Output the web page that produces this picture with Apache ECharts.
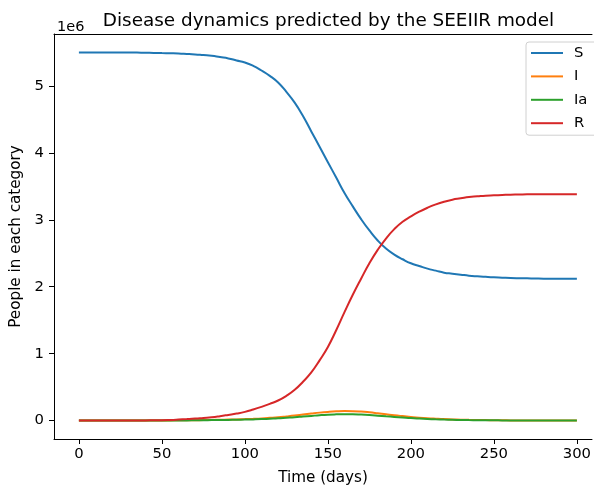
<!DOCTYPE html>
<html>
<head>
<meta charset="utf-8">
<script src="https://cdn.jsdelivr.net/npm/echarts@6/dist/echarts.min.js"></script>
<style>html,body{margin:0;padding:0;background:#fff;}#c{width:594px;height:491px;}</style>
</head>
<body>
<div id="c"></div>
<script>
// time (days), every 5 days
const days = [0,5,10,15,20,25,30,35,40,45,50,55,60,65,70,75,80,85,90,95,100,105,110,115,120,125,130,135,140,145,150,155,160,165,170,175,180,185,190,195,200,205,210,215,220,225,230,235,240,245,250,255,260,265,270,275,280,285,290,295,300];
// values in units of 1e6 people
const S  = [5.50,5.50,5.50,5.50,5.50,5.50,5.50,5.498,5.495,5.493,5.49,5.488,5.485,5.478,5.47,5.46,5.45,5.43,5.41,5.38,5.35,5.30,5.23,5.15,5.05,4.91,4.75,4.55,4.32,4.09,3.86,3.63,3.40,3.20,3.01,2.84,2.69,2.57,2.48,2.41,2.35,2.31,2.27,2.24,2.21,2.195,2.18,2.165,2.155,2.147,2.14,2.135,2.13,2.127,2.125,2.122,2.12,2.12,2.12,2.12,2.12];
const I  = [0,0,0,0.001,0.001,0.001,0.001,0.002,0.002,0.002,0.003,0.003,0.004,0.005,0.006,0.008,0.01,0.012,0.015,0.018,0.022,0.027,0.033,0.041,0.05,0.062,0.075,0.09,0.105,0.119,0.13,0.138,0.142,0.141,0.135,0.124,0.11,0.095,0.08,0.067,0.055,0.044,0.035,0.028,0.022,0.018,0.014,0.011,0.009,0.007,0.005,0.004,0.003,0.0025,0.002,0.0015,0.001,0.001,0.001,0.0005,0];
const Ia = [0,0,0,0.001,0.001,0.001,0.001,0.001,0.001,0.002,0.002,0.002,0.003,0.003,0.004,0.005,0.007,0.008,0.01,0.012,0.015,0.018,0.022,0.028,0.034,0.042,0.05,0.06,0.07,0.08,0.088,0.093,0.096,0.095,0.09,0.083,0.074,0.064,0.055,0.046,0.037,0.03,0.024,0.019,0.015,0.012,0.009,0.007,0.006,0.005,0.004,0.003,0.002,0.002,0.001,0.001,0.001,0.001,0,0,0];
const R  = [0,0,0,0.001,0.001,0.002,0.002,0.003,0.003,0.004,0.005,0.009,0.015,0.022,0.03,0.04,0.05,0.066,0.085,0.105,0.13,0.165,0.205,0.25,0.30,0.37,0.46,0.58,0.72,0.90,1.10,1.35,1.62,1.88,2.12,2.35,2.55,2.72,2.86,2.97,3.05,3.12,3.18,3.23,3.27,3.30,3.32,3.34,3.35,3.36,3.365,3.37,3.375,3.377,3.38,3.38,3.38,3.38,3.38,3.38,3.38];
const seriesNames = ['S','I','Ia','R'];
const seriesData = [S, I, Ia, R];
const colors = ['#1f77b4','#ff7f0e','#2ca02c','#d62728'];
const xTicks = [0,50,100,150,200,250,300];
const yTicks = [0,1,2,3,4,5];

const chart = echarts.init(document.getElementById('c'), null, {renderer:'canvas'});
const font = 'DejaVu Sans';
chart.setOption({
  animation:false,
  backgroundColor:'#fff',
  textStyle:{fontFamily:font},
  title:[
    {text:'Disease dynamics predicted by the SEEIIR model', left:323.5, top:7, textAlign:'center',
     textStyle:{fontFamily:font, fontSize:18.4, fontWeight:'normal', color:'#000'}},
    {text:'1e6', left:52, top:15, textStyle:{fontFamily:font, fontSize:14.5, fontWeight:'normal', color:'#000'}}
  ],
  legend:{
    orient:'vertical', left:526, top:42, padding:[3,18,4,5], itemGap:7.4,
    itemWidth:32, itemHeight:2, icon:'rect',
    borderColor:'#d0d0d0', borderWidth:1, borderRadius:3, backgroundColor:'#fff',
    textStyle:{fontFamily:font, fontSize:14.8, lineHeight:16, color:'#000', padding:[0,0,0,6]},
    data:seriesNames
  },
  grid:{left:54, right:0, top:34, bottom:49, show:false, containLabel:false},
  xAxis:[{
    type:'value', min:-15, max:309.1, position:'bottom',
    name:'Time (days)', nameLocation:'middle', nameGap:32,
    nameTextStyle:{fontFamily:font, fontSize:15.2, color:'#000'},
    axisLine:{show:true, onZero:false, lineStyle:{color:'#000', width:1}},
    axisTick:{show:true, length:5, lineStyle:{color:'#000'}, customValues:xTicks},
    axisLabel:{color:'#000', fontSize:14.8, fontFamily:font, margin:8, customValues:xTicks},
    splitLine:{show:false}
  },{
    type:'value', min:-15, max:309.1, position:'top',
    axisLine:{show:true, onZero:false, lineStyle:{color:'#000', width:1}},
    axisTick:{show:false}, axisLabel:{show:false}, splitLine:{show:false}
  }],
  yAxis:{
    type:'value', min:-0.275, max:5.775,
    name:'People in each category', nameLocation:'middle', nameGap:25,
    nameTextStyle:{fontFamily:font, fontSize:15.2, color:'#000'},
    axisLine:{show:true, onZero:false, lineStyle:{color:'#000', width:1}},
    axisTick:{show:true, length:5, lineStyle:{color:'#000'}, customValues:yTicks},
    axisLabel:{color:'#000', fontSize:14.8, fontFamily:font, margin:10, customValues:yTicks},
    splitLine:{show:false}
  },
  series: seriesNames.map((n,i)=>({
    name:n, type:'line', showSymbol:false, smooth:0.5, xAxisIndex:0,
    data: days.map((d,j)=>[d, seriesData[i][j]]),
    lineStyle:{color:colors[i], width:2}, itemStyle:{color:colors[i]}
  }))
});
</script>
</body>
</html>
